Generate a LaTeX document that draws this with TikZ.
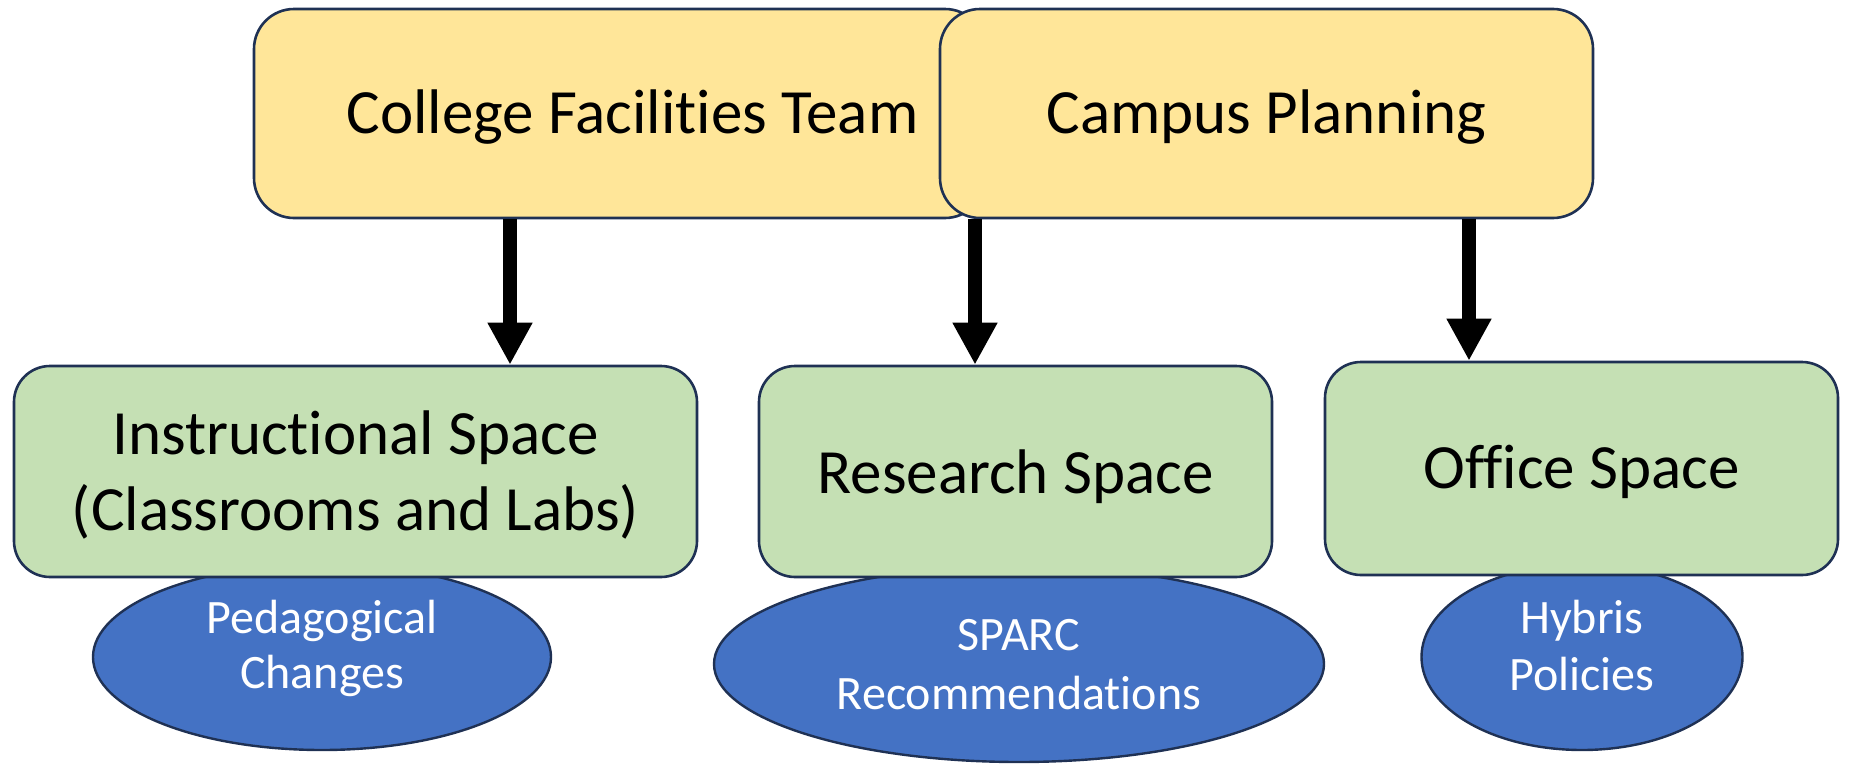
\documentclass[tikz,border=0pt]{standalone}
\usepackage{fontspec}
\setmainfont{Carlito}[RawFeature=-liga]
\usetikzlibrary{shapes.geometric,arrows.meta}
\definecolor{boxyellow}{HTML}{FFE699}
\definecolor{boxgreen}{HTML}{C5E0B4}
\definecolor{ellblue}{HTML}{4472C4}
\definecolor{edgenavy}{HTML}{1F3154}
% place text so that its first baseline lies #1 below (negative) / above (positive) the node centre
\newcommand{\basetext}[2]{\raisebox{#1}[0pt][0pt]{\begin{tabular}[t]{@{}c@{}}#2\end{tabular}}}
\tikzset{
  topbox/.style={draw=edgenavy, line width=2.6pt, fill=boxyellow, rounded corners=40pt,
    inner sep=0pt, font=\fontsize{63}{75}\selectfont, align=center},
  spacebox/.style={draw=edgenavy, line width=2.6pt, fill=boxgreen, rounded corners=36pt,
    inner sep=0pt, font=\fontsize{63}{85}\selectfont, align=center},
  policy/.style={ellipse, draw=edgenavy, line width=2.4pt, fill=ellblue, text=white,
    inner sep=0pt, font=\fontsize{48}{59}\selectfont, align=center},
  bigarrow/.style={line width=14pt, -{Triangle[width=42pt,length=42pt]}, black}
}
\begin{document}
\begin{tikzpicture}[x=1pt,y=-1pt]
\useasboundingbox (0,0) rectangle (1850,766);
% ellipses (behind the green boxes)
\node[policy, minimum width=458pt, minimum height=186pt] (ped) at (322,657) {\basetext{24pt}{Pedagogical\\[-4pt]Changes}};
\node[policy, minimum width=610pt, minimum height=196pt] (sparc) at (1019,664) {\basetext{14pt}{SPARC\\[0pt]Recommendations}};
\node[policy, minimum width=321pt, minimum height=186pt] (hyb) at (1582,657) {\basetext{24pt}{Hybris\\[-2pt]Policies}};
% green boxes
\node[spacebox, minimum width=683pt, minimum height=211pt] (ins) at (355.5,471.5) {\basetext{17.5pt}{Instructional Space\\[-9pt](Classrooms and Labs)}};
\node[spacebox, minimum width=513pt, minimum height=211pt] (res) at (1015.5,471.5) {\basetext{-21.5pt}{Research Space}};
\node[spacebox, minimum width=513pt, minimum height=213pt] (off) at (1581.5,468.5) {\basetext{-19.5pt}{Office Space}};
% top boxes
\node[topbox, minimum width=731pt, minimum height=209pt] (cft) at (619.5,113.5) {\basetext{-19.5pt}{\hspace*{26pt}College Facilities Team}};
\node[topbox, minimum width=653pt, minimum height=209pt] (cp) at (1266.5,113.5) {\basetext{-19.5pt}{Campus Planning}};
% arrow positions
\coordinate (xa) at (510,0);
\coordinate (xb) at (975,0);
\coordinate (xc) at (1469,0);
\draw[bigarrow] (xa |- cft.south) -- (xa |- ins.north);
\draw[bigarrow] (xb |- cft.south) -- (xb |- res.north);
\draw[bigarrow] (xc |- cp.south) -- (xc |- off.north);
\end{tikzpicture}
\end{document}
